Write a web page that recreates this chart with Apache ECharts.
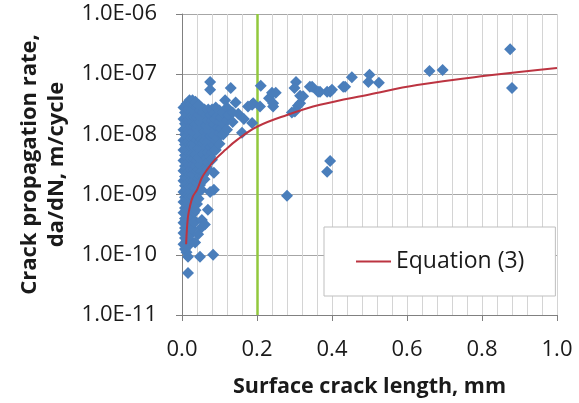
<!DOCTYPE html>
<html>
<head>
<meta charset="utf-8">
<title>Crack propagation rate</title>
<script src="https://cdn.jsdelivr.net/npm/echarts@6/dist/echarts.min.js"></script>
<style>
    html, body { margin: 0; padding: 0; background: #fff; }
    #chart { width: 579px; height: 403px; }
</style>
</head>
<body>
<div id="chart"></div>
<script>
// y axis tick labels (log scale, 1E-11 .. 1E-06)
const yTickLabels = ['1.0E-11', '1.0E-10', '1.0E-09', '1.0E-08', '1.0E-07', '1.0E-06'];

// measured points: [surface crack length mm, da/dN m/cycle]
// dense cluster of short cracks
const shortCracks = [
    [0.004, 2.8e-8], [0.004, 1.8e-8], [0.004, 1.2e-8], [0.004, 8e-9], [0.004, 5.5e-9], [0.004, 3.7e-9], [0.004, 2.5e-9],
    [0.004, 1.7e-9], [0.004, 1.1e-9], [0.004, 7.5e-10], [0.004, 5e-10], [0.004, 3.4e-10], [0.004, 2.3e-10], [0.004, 1.5e-10],
    [0.008, 2.3e-8], [0.008, 1.5e-8], [0.008, 1e-8], [0.008, 6.8e-9], [0.008, 4.5e-9], [0.008, 3e-9], [0.008, 2e-9],
    [0.008, 1.4e-9], [0.008, 9e-10], [0.008, 6e-10], [0.008, 4e-10], [0.008, 2.8e-10], [0.008, 1.9e-10], [0.008, 1.25e-10],
    [0.012, 3.2e-8], [0.012, 2.1e-8], [0.012, 1.4e-8], [0.012, 9.5e-9], [0.012, 6.3e-9], [0.012, 4.2e-9], [0.012, 2.8e-9],
    [0.012, 1.9e-9], [0.012, 1.25e-9], [0.012, 8.5e-10], [0.012, 5.6e-10], [0.012, 3.7e-10], [0.012, 2.5e-10], [0.012, 1.7e-10], [0.012, 1.1e-10],
    [0.016, 2.6e-8], [0.016, 1.7e-8], [0.016, 1.15e-8], [0.016, 7.7e-9], [0.016, 5.1e-9], [0.016, 3.4e-9], [0.016, 2.3e-9],
    [0.016, 1.5e-9], [0.016, 1e-9], [0.016, 7e-10], [0.016, 4.6e-10], [0.016, 3.1e-10], [0.016, 2.1e-10], [0.016, 1.4e-10],
    [0.02, 3.7e-8], [0.02, 2.5e-8], [0.02, 1.6e-8], [0.02, 1.1e-8], [0.02, 7e-9], [0.02, 4.7e-9], [0.02, 3.1e-9],
    [0.02, 2.1e-9], [0.02, 1.4e-9], [0.02, 9e-10], [0.02, 6e-10], [0.02, 4e-10], [0.02, 2.7e-10], [0.02, 1.8e-10],
    [0.024, 3.1e-8], [0.024, 2e-8], [0.024, 1.35e-8], [0.024, 9e-9], [0.024, 6e-9], [0.024, 4e-9], [0.024, 2.6e-9],
    [0.024, 1.7e-9], [0.024, 1.15e-9], [0.024, 7.5e-10], [0.024, 5e-10], [0.024, 3.3e-10], [0.024, 2.2e-10],
    [0.028, 3.7e-8], [0.028, 2.5e-8], [0.028, 1.6e-8], [0.028, 1.1e-8], [0.028, 7e-9], [0.028, 4.7e-9], [0.028, 3.1e-9],
    [0.028, 2.1e-9], [0.028, 1.4e-9], [0.028, 9e-10], [0.028, 6e-10], [0.028, 4e-10], [0.028, 2.7e-10],
    [0.032, 3e-8], [0.032, 2e-8], [0.032, 1.35e-8], [0.032, 9e-9], [0.032, 6e-9], [0.032, 4e-9], [0.032, 2.6e-9],
    [0.032, 1.7e-9], [0.032, 1.1e-9], [0.032, 7.5e-10], [0.032, 5e-10], [0.032, 3.4e-10],
    [0.036, 3.5e-8], [0.036, 2.3e-8], [0.036, 1.5e-8], [0.036, 1e-8], [0.036, 6.8e-9], [0.036, 4.5e-9], [0.036, 3e-9],
    [0.036, 2e-9], [0.036, 1.3e-9], [0.036, 8.5e-10], [0.036, 5.5e-10],
    [0.04, 2.9e-8], [0.04, 1.9e-8], [0.04, 1.25e-8], [0.04, 8.3e-9], [0.04, 5.5e-9], [0.04, 3.7e-9], [0.04, 2.4e-9],
    [0.04, 1.6e-9], [0.04, 1.05e-9], [0.04, 7e-10],
    [0.044, 3.1e-8], [0.044, 2.1e-8], [0.044, 1.4e-8], [0.044, 9e-9], [0.044, 6e-9], [0.044, 4e-9], [0.044, 2.7e-9],
    [0.044, 1.8e-9], [0.044, 1.2e-9], [0.044, 8.5e-10],
    [0.048, 2.5e-8], [0.048, 1.65e-8], [0.048, 1.1e-8], [0.048, 7.3e-9], [0.048, 4.9e-9], [0.048, 3.2e-9], [0.048, 2.1e-9], [0.048, 1.45e-9],
    [0.052, 2.8e-8], [0.052, 1.9e-8], [0.052, 1.25e-8], [0.052, 8.5e-9], [0.052, 5.6e-9], [0.052, 3.7e-9], [0.052, 2.5e-9],
    [0.052, 1.7e-9], [0.052, 1.2e-9],
    [0.056, 2.3e-8], [0.056, 1.55e-8], [0.056, 1.05e-8], [0.056, 7e-9], [0.056, 4.6e-9], [0.056, 3e-9], [0.056, 2.1e-9],
    [0.06, 2.6e-8], [0.06, 1.7e-8], [0.06, 1.15e-8], [0.06, 7.7e-9], [0.06, 5e-9], [0.06, 3.4e-9], [0.06, 2.3e-9], [0.06, 1.8e-9],
    [0.065, 2.1e-8], [0.065, 1.4e-8], [0.065, 9.4e-9], [0.065, 6.2e-9], [0.065, 4.1e-9], [0.065, 2.9e-9],
    [0.07, 2.6e-8], [0.07, 1.7e-8], [0.07, 1.15e-8], [0.07, 7.7e-9], [0.07, 5e-9], [0.07, 3.4e-9], [0.07, 2.6e-9],
    [0.075, 2.1e-8], [0.075, 1.4e-8], [0.075, 9.4e-9], [0.075, 6.2e-9], [0.075, 4.3e-9],
    [0.08, 2.6e-8], [0.08, 1.7e-8], [0.08, 1.1e-8], [0.08, 7.5e-9], [0.08, 5e-9], [0.08, 3.8e-9],
    [0.085, 2.2e-8], [0.085, 1.45e-8], [0.085, 9.5e-9], [0.085, 6.5e-9],
    [0.09, 2.8e-8], [0.09, 1.8e-8], [0.09, 1.2e-8], [0.09, 8e-9], [0.09, 5.5e-9],
    [0.095, 2e-8], [0.095, 1.3e-8], [0.095, 8.7e-9],
    [0.1, 2.5e-8], [0.1, 1.6e-8], [0.1, 1.05e-8], [0.1, 7e-9],
    [0.105, 1.9e-8], [0.105, 1.25e-8],
    [0.11, 2.3e-8], [0.11, 1.5e-8], [0.11, 1e-8],
    [0.12, 2.8e-8], [0.12, 1.7e-8], [0.12, 1.2e-8], [0.125, 2.1e-8],
    [0.135, 2.3e-8], [0.135, 1.6e-8], [0.15, 2.2e-8], [0.165, 1.8e-8],
    // lower tail of the cluster
    [0.085, 2.3e-9], [0.085, 1.2e-9], [0.075, 1.1e-9], [0.069, 5.6e-10], [0.053, 3.8e-10], [0.053, 2.9e-10],
    [0.061, 3.2e-10], [0.043, 2.2e-10], [0.035, 1.6e-10], [0.016, 9.3e-11], [0.048, 9.3e-11], [0.083, 1e-10], [0.016, 5e-11]
];

// longer cracks and isolated points
const longCracks = [
    [0.075, 7.4e-8], [0.075, 5.5e-8], [0.13, 5.9e-8], [0.115, 3.7e-8], [0.143, 3.4e-8], [0.176, 2.9e-8],
    [0.187, 1.55e-8], [0.16, 1.07e-8], [0.187, 3.1e-8], [0.19, 3.3e-8], [0.208, 2.9e-8], [0.21, 6.4e-8],
    [0.232, 4e-8], [0.24, 4.9e-8], [0.25, 4.9e-8], [0.243, 2.9e-8], [0.243, 3.3e-8],
    [0.293, 2.3e-8], [0.301, 2.4e-8], [0.309, 3e-8], [0.315, 3.3e-8], [0.315, 4.4e-8],
    [0.304, 7.4e-8], [0.30, 5.9e-8], [0.323, 4.3e-8], [0.341, 6.2e-8], [0.347, 6.2e-8], [0.363, 5.1e-8],
    [0.368, 5.1e-8], [0.387, 5.1e-8], [0.395, 5.1e-8], [0.40, 5.5e-8], [0.43, 6.2e-8], [0.435, 6.2e-8],
    [0.453, 8.9e-8], [0.50, 9.8e-8], [0.497, 7.4e-8], [0.525, 7.2e-8], [0.66, 1.13e-7], [0.695, 1.17e-7],
    [0.875, 2.6e-7], [0.88, 5.9e-8], [0.28, 9.6e-10], [0.395, 3.6e-9], [0.387, 2.4e-9]
];

// Equation (3) curve
const equationCurve = [
    [0.011, 1.5e-10], [0.013, 2.6e-10], [0.016, 4.3e-10], [0.021, 6.3e-10], [0.029, 9.3e-10], [0.04, 1.2e-9],
    [0.053, 1.9e-9], [0.067, 2.6e-9], [0.088, 3.8e-9], [0.115, 5.5e-9], [0.147, 8.1e-9], [0.2, 1.34e-8],
    [0.28, 2.1e-8], [0.368, 3.1e-8], [0.5, 4.6e-8], [0.627, 6.6e-8], [0.803, 9.3e-8], [1.0, 1.27e-7]
];

const markerX = 0.2; // green vertical reference line

const chart = echarts.init(document.getElementById('chart'), null, { renderer: 'canvas' });
const FONT = '"Open Sans", sans-serif';

const pointStyle = {
    type: 'scatter',
    symbol: 'diamond',
    symbolSize: 12,
    itemStyle: { color: '#4A7EBB', opacity: 1 },
    silent: true
};

chart.setOption({
    animation: false,
    grid: { left: 182, right: 22, top: 14, bottom: 87 },
    xAxis: {
        type: 'value',
        min: 0,
        max: 1,
        interval: 0.2,
        name: 'Surface crack length, mm',
        nameLocation: 'middle',
        nameGap: 61,
        nameTextStyle: { fontFamily: FONT, fontWeight: 'bold', fontSize: 21.5, color: '#1a1a1a' },
        axisLine: { lineStyle: { color: '#808080', width: 1 } },
        axisTick: { show: true, length: 6, lineStyle: { color: '#808080' } },
        axisLabel: {
            fontFamily: FONT, fontSize: 22, color: '#1a1a1a', margin: 24,
            formatter: v => v.toFixed(1)
        },
        splitLine: { show: true, lineStyle: { color: '#d4d4d4', width: 1 } },
        minorTick: { show: false, splitNumber: 5 },
        minorSplitLine: { show: true, lineStyle: { color: '#d4d4d4', width: 1 } }
    },
    yAxis: {
        type: 'log',
        logBase: 10,
        min: 1e-11,
        max: 1e-6,
        name: 'Crack propagation rate,\nda/dN, m/cycle',
        nameLocation: 'middle',
        nameRotate: 90,
        nameGap: 112,
        nameTextStyle: { fontFamily: FONT, fontWeight: 'bold', fontSize: 22, color: '#1a1a1a', lineHeight: 27 },
        axisLine: { show: true, lineStyle: { color: '#808080', width: 1 } },
        axisTick: { show: true, length: 6, lineStyle: { color: '#808080' } },
        axisLabel: {
            fontFamily: FONT, fontSize: 22, color: '#1a1a1a', margin: 25,
            formatter: v => yTickLabels[Math.round(Math.log10(v)) + 11]
        },
        splitLine: { show: true, lineStyle: { color: '#a6a6a6', width: 1 } }
    },
    legend: {
        data: [{ name: 'Equation (3)', icon: 'rect' }],
        left: 324,
        top: 227,
        orient: 'horizontal',
        padding: [23, 31, 23, 32],
        itemWidth: 35,
        itemHeight: 2,
        itemGap: 0,
        backgroundColor: '#ffffff',
        borderColor: '#bfbfbf',
        borderWidth: 1,
        textStyle: { fontFamily: FONT, fontSize: 23, color: '#1a1a1a', padding: [0, 0, 0, 0] },
        selectedMode: false
    },
    series: [
        Object.assign({ name: 'Short cracks', data: shortCracks, z: 3 }, pointStyle),
        Object.assign({ name: 'Long cracks', data: longCracks, z: 3 }, pointStyle),
        {
            name: 'Equation (3)',
            type: 'line',
            data: equationCurve,
            smooth: 0.4,
            symbol: 'none',
            lineStyle: { color: '#BC3441', width: 2 },
            itemStyle: { color: '#BC3441' },
            z: 4,
            markLine: {
                silent: true,
                symbol: 'none',
                label: { show: false },
                lineStyle: { color: '#92C83E', width: 2.5, type: 'solid' },
                data: [{ xAxis: markerX }],
                z: 2
            }
        }
    ]
});
</script>
</body>
</html>
